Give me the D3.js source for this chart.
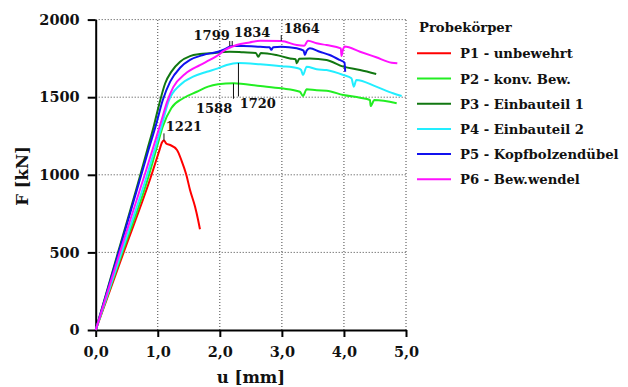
<!DOCTYPE html>
<html>
<head>
<meta charset="utf-8">
<script src="https://cdn.jsdelivr.net/npm/d3@7"></script>
<style>
  body { margin: 0; background: #fff; }
  svg text { font-family: "DejaVu Serif", serif; font-weight: bold; fill: #111; }
</style>
</head>
<body>
<div id="chart"></div>
<script>
// Force-displacement curves: [u (mm), F (kN)]
const p1 = [[0,0],[0.45,500],[0.9,1000],[1.02,1150],[1.07,1210],[1.1,1221],[1.14,1200],[1.2,1192],[1.31,1160],[1.38,1095],[1.46,1000],[1.52,902],[1.6,795],[1.65,709],[1.68,649]];
const p2 = [[0,0],[0.43,500],[0.86,1000],[0.98,1170],[1.08,1310],[1.22,1430],[1.41,1493],[1.63,1535],[1.81,1568],[1.97,1583],[2.22,1590],[2.65,1572],[2.99,1557],[3.29,1535],[3.34,1508],[3.4,1551],[3.56,1544],[3.72,1542],[3.99,1514],[4.26,1497],[4.42,1482],[4.43,1443],[4.49,1482],[4.85,1461]];
const p3 = [[0,0],[0.36,500],[0.72,1000],[0.83,1160],[0.94,1320],[1.02,1450],[1.12,1590],[1.22,1665],[1.36,1729],[1.52,1765],[1.68,1778],[1.84,1783],[2.16,1793],[2.38,1789],[2.58,1785],[2.62,1760],[2.66,1785],[2.91,1772],[3.13,1750],[3.22,1745],[3.24,1718],[3.28,1748],[3.45,1750],[3.72,1740],[3.99,1697],[4.26,1675],[4.52,1650]];
const p4 = [[0,0],[0.415,500],[0.83,1000],[0.95,1160],[1.06,1310],[1.17,1470],[1.36,1579],[1.57,1632],[1.79,1664],[1.97,1686],[2.11,1707],[2.3,1720],[2.65,1712],[2.99,1700],[3.26,1686],[3.31,1675],[3.34,1643],[3.4,1697],[3.56,1680],[3.72,1675],[3.99,1643],[4.12,1622],[4.16,1568],[4.2,1611],[4.52,1568],[4.79,1525],[4.93,1508]];
const p5 = [[0,0],[0.37,500],[0.735,1000],[0.85,1160],[0.97,1320],[1.08,1480],[1.2,1600],[1.36,1690],[1.52,1740],[1.73,1772],[1.97,1793],[2.05,1804],[2.2,1830],[2.38,1830],[2.65,1825],[2.8,1822],[2.83,1805],[2.86,1822],[2.99,1825],[3.24,1815],[3.35,1800],[3.37,1772],[3.4,1800],[3.45,1815],[3.61,1793],[3.77,1772],[3.93,1740],[4.01,1722],[4.02,1664]];
const p6 = [[0,0],[0.39,500],[0.79,1000],[0.93,1180],[1.06,1350],[1.15,1470],[1.25,1565],[1.44,1650],[1.68,1707],[1.84,1740],[1.97,1770],[2.05,1795],[2.27,1836],[2.48,1853],[2.65,1864],[2.99,1862],[3.24,1836],[3.36,1832],[3.42,1864],[3.56,1847],[3.72,1836],[3.95,1815],[3.96,1765],[3.98,1800],[4.01,1826],[4.26,1793],[4.52,1757],[4.77,1722],[4.86,1718]];

const seriesNames = ["P1 - unbewehrt", "P2 - konv. Bew.", "P3 - Einbauteil 1", "P4 - Einbauteil 2", "P5 - Kopfbolzendübel", "P6 - Bew.wendel"];
const seriesColors = ["#ff0000", "#22ee22", "#117711", "#22eeff", "#1111ee", "#ff11ff"];
const seriesData = [p1, p2, p3, p4, p5, p6];

const xTicks = [0, 1, 2, 3, 4, 5];
const yTicks = [0, 500, 1000, 1500, 2000];

// peak labels: text, anchor point [u, F], text-anchor, tick line [u, F1, F2]
const peakLabels = [
  { text: "1221", at: [1.13, 1279], anchor: "start", tick: [1.1, 1221, 1267] },
  { text: "1799", at: [2.16, 1868], anchor: "end", tick: [2.16, 1830, 1862] },
  { text: "1834", at: [2.23, 1885], anchor: "start", tick: [2.2, 1834, 1862] },
  { text: "1864", at: [3.03, 1914], anchor: "start", tick: [2.99, 1864, 1900] },
  { text: "1588", at: [2.2, 1396], anchor: "end", tick: [2.22, 1588, 1490] },
  { text: "1720", at: [2.32, 1428], anchor: "start", tick: [2.3, 1720, 1505] }
];

const width = 628, height = 387;
const margin = { top: 19.6, left: 95.7, right: 222, bottom: 57 };
const plotW = width - margin.left - margin.right;
const plotH = height - margin.top - margin.bottom;

const svg = d3.select("#chart").append("svg")
  .attr("width", width)
  .attr("height", height);

const x = d3.scaleLinear().domain([0, 5]).range([margin.left, margin.left + plotW]);
const y = d3.scaleLinear().domain([0, 2000]).range([margin.top + plotH, margin.top]);

// dotted grid
const grid = svg.append("g");
grid.selectAll(".gx")
  .data(xTicks.slice(1))
  .enter().append("line")
  .attr("x1", d => x(d)).attr("x2", d => x(d))
  .attr("y1", y(0)).attr("y2", y(2000))
  .style("stroke", "#444").style("stroke-width", 1).style("stroke-dasharray", "1,2");
grid.selectAll(".gy")
  .data(yTicks.slice(1))
  .enter().append("line")
  .attr("x1", x(0)).attr("x2", x(5))
  .attr("y1", d => y(d)).attr("y2", d => y(d))
  .style("stroke", "#444").style("stroke-width", 1).style("stroke-dasharray", "1,2");

// axes
const fmtX = d => d3.format(".1f")(d).replace(".", ",");
const xAxis = svg.append("g")
  .attr("transform", `translate(0,${y(0)})`)
  .call(d3.axisBottom(x).tickValues(xTicks).tickFormat(fmtX).tickSize(7).tickPadding(10).tickSizeOuter(0));
const yAxis = svg.append("g")
  .attr("transform", `translate(${x(0)},0)`)
  .call(d3.axisLeft(y).tickValues(yTicks).tickFormat(d3.format("d")).tickSize(8).tickPadding(8).tickSizeOuter(0));

[xAxis, yAxis].forEach(a => {
  a.select(".domain").style("stroke", "#000").style("stroke-width", 2);
  a.selectAll(".tick line").style("stroke", "#000").style("stroke-width", 2);
  a.selectAll(".tick text").style("font-family", "DejaVu Serif, serif")
    .style("font-weight", "bold").style("font-size", "14.5px").style("fill", "#111");
});

// curves
const line = d3.line().curve(d3.curveMonotoneX).x(d => x(d[0])).y(d => y(d[1]));
svg.append("g").selectAll("path")
  .data(seriesData)
  .enter().append("path")
  .attr("d", line)
  .style("fill", "none")
  .style("stroke", (d, i) => seriesColors[i])
  .style("stroke-width", 2)
  .style("stroke-linejoin", "round");

// peak annotations
const ann = svg.append("g");
ann.selectAll("line")
  .data(peakLabels)
  .enter().append("line")
  .attr("x1", d => x(d.tick[0])).attr("x2", d => x(d.tick[0]))
  .attr("y1", d => y(d.tick[1])).attr("y2", d => y(d.tick[2]))
  .style("stroke", "#111").style("stroke-width", 1);
ann.selectAll("text")
  .data(peakLabels)
  .enter().append("text")
  .attr("x", d => x(d.at[0]))
  .attr("y", d => y(d.at[1]))
  .attr("text-anchor", d => d.anchor)
  .style("font-size", "13px")
  .text(d => d.text);

// axis titles
svg.append("text")
  .attr("x", 251).attr("y", 383)
  .attr("text-anchor", "middle")
  .style("font-size", "16.5px")
  .text("u [mm]");
svg.append("text")
  .attr("transform", "translate(28,176) rotate(-90)")
  .attr("text-anchor", "middle")
  .style("font-size", "16.5px")
  .text("F [kN]");

// legend
const legend = svg.append("g").attr("transform", "translate(417,0)");
legend.append("text")
  .attr("x", 2).attr("y", 31.5)
  .style("font-size", "13.2px")
  .text("Probekörper");
const rows = legend.selectAll(".row")
  .data(seriesNames)
  .enter().append("g")
  .attr("transform", (d, i) => `translate(0,${53.3 + i * 25.2})`);
rows.append("line")
  .attr("x1", 0).attr("x2", 34)
  .style("stroke", (d, i) => seriesColors[i])
  .style("stroke-width", 2);
rows.append("text")
  .attr("x", 43).attr("y", 5)
  .style("font-size", "13.2px")
  .text(d => d);
</script>
</body>
</html>
